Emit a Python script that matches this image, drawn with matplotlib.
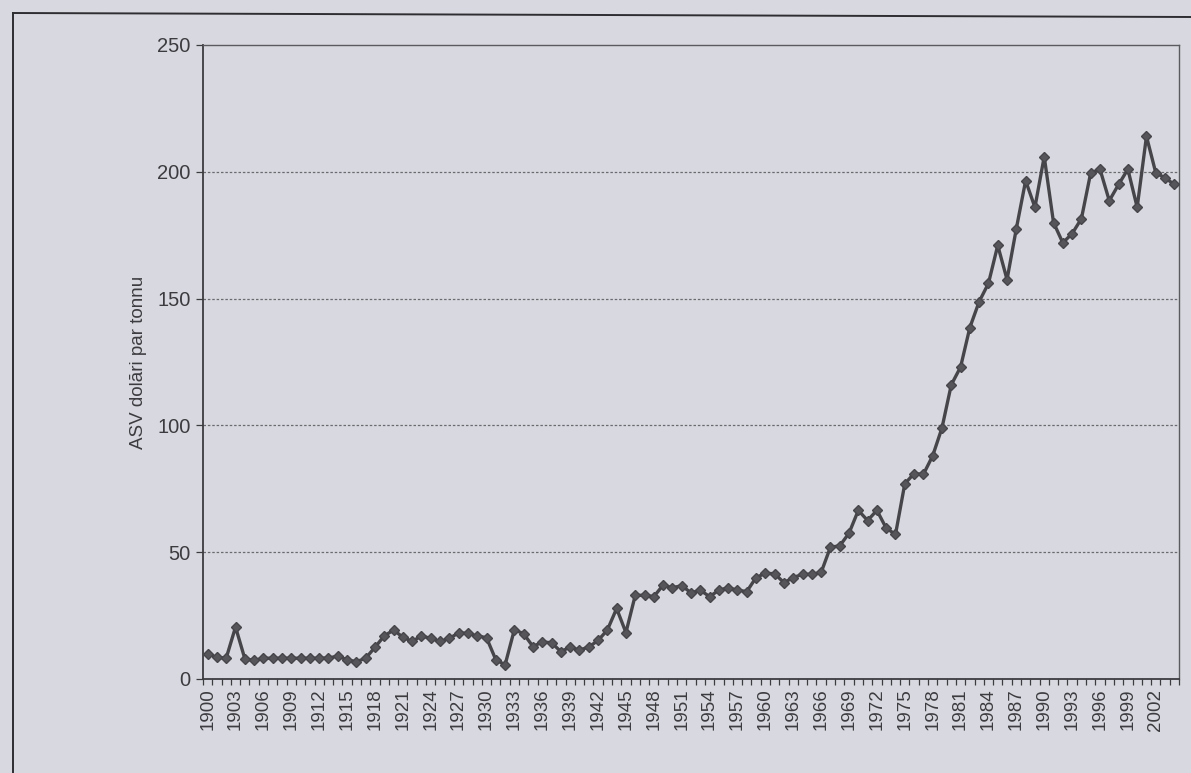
import matplotlib
matplotlib.use("Agg")
import matplotlib.pyplot as plt
from matplotlib.lines import Line2D
import numpy as np

years = list(range(1900, 2005))
prices = [
    10, 8.5, 8.3, 20.5, 8, 7.3, 8.2, 8.2, 8.2, 8.2,
    8.2, 8.2, 8.2, 8.3, 9, 7.6, 6.8, 8.2, 12.5, 17,
    19.3, 16.5, 14.8, 17, 16, 14.8, 16, 18.2, 18, 17,
    16.3, 7.6, 5.6, 19.5, 17.8, 12.8, 14.6, 14.3, 10.8, 12.6,
    11.4, 12.6, 15.2, 19.3, 27.8, 18.3, 33, 33, 32.5, 37,
    36, 36.8, 34, 35, 32.5, 35, 36, 35, 34.5, 40,
    41.7, 41.5, 38, 40, 41.3, 41.3, 42, 52, 52.5, 57.5,
    66.5, 62.5, 66.5, 59.5, 57, 77, 81, 80.7, 88, 99,
    116, 123, 138.6, 148.8, 156, 171, 157.5, 177.6, 196.5, 186,
    206, 180, 172, 175.6, 181.5, 199.6, 201, 188.6, 195, 201,
    186, 214, 199.6, 197.6, 195,
]
tick_labels = [str(y) for y in range(1900, 2003, 3)]
y_ticks = [0, 50, 100, 150, 200, 250]
y_label = "ASV dolāri par tonnu"

bg = "#d8d8e0"
ink = "#3c3c40"
plt.rcParams['font.family'] = ['Liberation Sans', 'DejaVu Sans']

fig = plt.figure(figsize=(11.91, 7.73), dpi=100, facecolor=bg)
ax = fig.add_axes([203/1191, 1 - 679/773, (1179 - 203)/1191, (679 - 45)/773])
ax.set_facecolor(bg)

x = np.arange(len(years))
ax.plot(x, prices, color="#46464a", lw=2.4, marker="D", ms=5.5,
        markerfacecolor="#56565a", markeredgecolor="#46464a", zorder=3)

ax.set_xlim(-0.5, len(years) - 0.5)
ax.set_ylim(0, 250)
ax.set_yticks(y_ticks)
ax.set_yticklabels([str(v) for v in y_ticks], fontsize=14.5, color=ink)
for v in y_ticks[1:-1]:
    ax.axhline(v, color="#6a6a70", lw=0.9, ls=(0, (2, 1.5)), zorder=1)

label_idx = [years.index(int(t)) for t in tick_labels]
ax.set_xticks(label_idx)
ax.set_xticklabels(tick_labels, rotation=90, fontsize=13.5, color=ink)
ax.set_xticks(np.arange(-0.5, len(years), 1), minor=True)
ax.tick_params(axis='x', which='major', length=0, pad=7)
ax.tick_params(axis='x', which='minor', length=4, width=0.9, color=ink, direction='out')
ax.tick_params(axis='y', length=5, width=0.9, color=ink, pad=4)

ax.spines['left'].set_color(ink)
ax.spines['left'].set_linewidth(1.3)
ax.spines['bottom'].set_color(ink)
ax.spines['bottom'].set_linewidth(1.3)
for s in ('top', 'right'):
    ax.spines[s].set_color("#5a5a60")
    ax.spines[s].set_linewidth(1.0)
    ax.spines[s].set_linestyle((0, (1.5, 1)))

ax.set_ylabel(y_label, fontsize=13.5, color=ink, labelpad=7)

# outer frame of the printed page
fig.add_artist(Line2D([13/1191, 1.0], [1 - 13/773, 1 - 17/773], color="#2e2e32", lw=1.4))
fig.add_artist(Line2D([13/1191, 13/1191], [1 - 13/773, 0.0], color="#2e2e32", lw=1.4))

fig.savefig("out.png", dpi=100, facecolor=bg)
